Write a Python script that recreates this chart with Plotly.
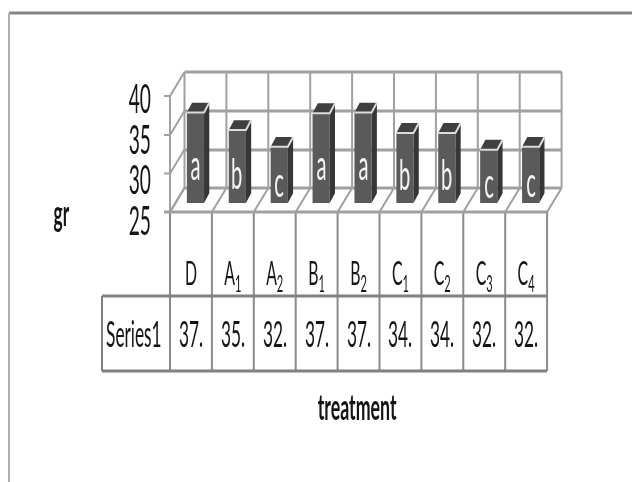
import plotly.graph_objects as go

categories = ["D", "A<sub>1</sub>", "A<sub>2</sub>", "B<sub>1</sub>", "B<sub>2</sub>", "C<sub>1</sub>", "C<sub>2</sub>", "C<sub>3</sub>", "C<sub>4</sub>"]
values = [37.4, 35.0, 32.7, 37.3, 37.4, 34.6, 34.6, 32.3, 32.7]
letters = ["a", "b", "c", "a", "a", "b", "b", "c", "c"]
y_ticks = [25, 30, 35, 40]
series_name = "Series1"

W, H = 632, 482
FONT = "Lato"
GRID = "#a0a0a0"
TXT = "#141414"
pos = list(range(len(values)))


def dx(a, b):
    return [a / W, b / W]


def dy(bottom, top):
    return [(H - bottom) / H, (H - top) / H]


fig = go.Figure()
fig.add_trace(go.Scatter(x=[None], y=[None], xaxis="x", yaxis="y", hoverinfo="skip"))

fig.add_trace(go.Bar(x=pos, y=[v - 25 for v in values], base=25, width=0.41, xaxis="x2", yaxis="y2",
                     marker=dict(color="#5a5a5a", line=dict(width=0)), hoverinfo="skip"))

BW, DX, DY = 0.205, 0.125, 1.35
side_x, side_y, top_x, top_y, edge_x, edge_y = [], [], [], [], [], []
for p, v in zip(pos, values):
    l, r = p - BW, p + BW
    side_x += [r, r + DX, r + DX, r, r, None]
    side_y += [25, 25 + DY, v + DY, v, 25, None]
    top_x += [l, l + DX, r + DX, r, l, None]
    top_y += [v, v + DY, v + DY, v, v, None]
    edge_x += [l, r, r + DX, None]
    edge_y += [v, v, v + DY, None]
fig.add_trace(go.Scatter(x=side_x, y=side_y, mode="lines", fill="toself", fillcolor="#363636",
                         line=dict(width=0, color="#363636"), xaxis="x2", yaxis="y2", hoverinfo="skip"))
fig.add_trace(go.Scatter(x=top_x, y=top_y, mode="lines", fill="toself", fillcolor="#404040",
                         line=dict(width=0, color="#404040"), xaxis="x2", yaxis="y2", hoverinfo="skip"))
fig.add_trace(go.Scatter(x=edge_x, y=edge_y, mode="lines", line=dict(width=2, color="#dcdcdc"),
                         xaxis="x2", yaxis="y2", hoverinfo="skip"))

fig.add_trace(go.Scatter(x=[None], y=[None], xaxis="x3", yaxis="y3", hoverinfo="skip"))

shapes = []


def line(x0, y0, x1, y1, w=2, c=GRID):
    shapes.append(dict(type="line", xref="paper", yref="paper", x0=x0 / W, x1=x1 / W,
                       y0=1 - y0 / H, y1=1 - y1 / H, line=dict(color=c, width=w), layer="below"))


line(9, 13, 632, 13, 3, "#858585")
line(9, 13, 9, 482, 2, "#b0b0b0")

X0, STEP = 170, 41.9
for i in range(len(values) + 1):
    xi = X0 + i * STEP
    line(xi, 212, xi + 14.5, 188)
    line(xi, 212, xi, 296, 2, "#8a8a8a")
    line(xi, 296, xi, 371, 2, "#8a8a8a")
    line(xi + 14.5, 72, xi + 14.5, 188)
for t, yy in zip(y_ticks, [212, 173.5, 135, 96]):
    line(164, yy, 170, yy)
    line(170, yy, 184.5, yy - 24)
for yy in [72, 111, 150, 188]:
    line(184.5, yy, 561.6, yy, 3)
line(170, 96, 170, 212)
line(164, 212, 547, 212, 3)

line(102, 296, 547, 296, 3, "#808080")
line(102, 371, 547, 371, 3, "#808080")
line(102, 296, 102, 371, 2, "#808080")

annotations = [
    dict(text=series_name, xref="paper", yref="paper", x=134 / W, y=1 - 333 / H, showarrow=False,
         font=dict(family=FONT, size=36, color=TXT), xanchor="center", yanchor="middle"),
    dict(text="<b>gr</b>", xref="paper", yref="paper", x=61 / W, y=1 - 212 / H, showarrow=False,
         font=dict(family=FONT, size=36, color=TXT), xanchor="center", yanchor="middle"),
    dict(text="<b>treatment</b>", xref="paper", yref="paper", x=357 / W, y=1 - 405 / H, showarrow=False,
         font=dict(family=FONT, size=37, color=TXT), xanchor="center", yanchor="middle"),
]
for p, v in zip(pos, values):
    annotations.append(dict(text=f"{int(v)}.", xref="x3", yref="paper", x=p, y=1 - 333 / H, showarrow=False,
                            font=dict(family=FONT, size=36, color=TXT), xanchor="center", yanchor="middle"))
for p, v, s in zip(pos, values, letters):
    annotations.append(dict(text=s, xref="x2", yref="y2", x=p, y=25 + (v - 25) / 2, yshift=-6, showarrow=False,
                            font=dict(family=FONT, size=42, color="#f4f4f4"), xanchor="center", yanchor="middle"))

hidden = dict(showgrid=False, zeroline=False, showticklabels=False, ticks="", showline=False)
rng_x = [-0.5, 8.5]
fig.update_layout(
    width=W, height=H, autosize=False, margin=dict(l=0, r=0, t=0, b=0, pad=0, autoexpand=False),
    paper_bgcolor="white", plot_bgcolor="rgba(0,0,0,0)", showlegend=False, barmode="overlay",
    shapes=shapes, annotations=annotations,
    xaxis=dict(domain=dx(184.5, 561.6), range=rng_x, anchor="y", **hidden),
    yaxis=dict(domain=dy(188, 72), range=[25, 40], anchor="x", **hidden),
    xaxis2=dict(domain=dx(174.5, 551.6), range=rng_x, anchor="y2", **hidden),
    yaxis2=dict(domain=dy(203, 93.5), range=[25, 40], anchor="x2", **hidden),
    xaxis3=dict(domain=dx(170, 547), range=rng_x, anchor="y3", tickmode="array", tickvals=pos, ticktext=categories,
                showgrid=False, zeroline=False, showline=False, ticks="", ticklabelstandoff=30,
                tickfont=dict(family=FONT, size=33, color=TXT)),
    yaxis3=dict(domain=dy(221, 99), range=[25, 40], anchor="x3", tickmode="array", tickvals=y_ticks,
                ticktext=[str(t) for t in y_ticks], showgrid=False, zeroline=False, showline=False, ticks="",
                ticklabelstandoff=6, tickfont=dict(family=FONT, size=40, color=TXT)),
)

post = """
document.body.style.margin = '0';
var gd = document.querySelector('.plotly-graph-div');
gd.querySelectorAll('text').forEach(function(t){
  if(!t.textContent.trim()) return;
  var b = t.getBBox(); var cx = b.x + b.width/2;
  var tr = t.getAttribute('transform') || '';
  t.setAttribute('transform', tr + ' translate(' + cx + ',0) scale(0.48,1) translate(' + (-cx) + ',0)');
});
gd.style.filter = 'blur(0.5px)';
"""
fig.write_html("out.html", post_script=post, config=dict(displayModeBar=False))
